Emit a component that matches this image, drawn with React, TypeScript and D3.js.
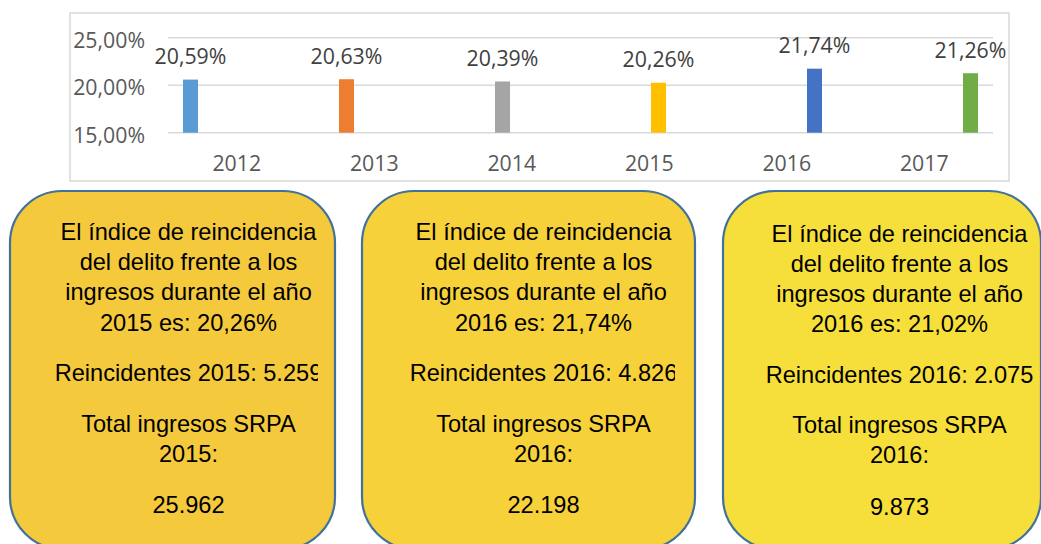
import React from "react";
import * as d3 from "d3";

const years = ["2012", "2013", "2014", "2015", "2016", "2017"];
const rates = [20.59, 20.63, 20.39, 20.26, 21.74, 21.26];
const seriesColors = ["#5B9BD5", "#ED7D31", "#A5A5A5", "#FFC000", "#4472C4", "#70AD47"];
const yTicks = [15, 20, 25];

const box1Lines = [
  "El índice de reincidencia",
  "del delito frente a los",
  "ingresos durante el año",
  "2015 es: 20,26%",
  "Reincidentes 2015: 5.259",
  "Total ingresos SRPA",
  "2015:",
  "25.962",
];
const box2Lines = [
  "El índice de reincidencia",
  "del delito frente a los",
  "ingresos durante el año",
  "2016 es: 21,74%",
  "Reincidentes 2016: 4.826",
  "Total ingresos SRPA",
  "2016:",
  "22.198",
];
const box3Lines = [
  "El índice de reincidencia",
  "del delito frente a los",
  "ingresos durante el año",
  "2016 es: 21,02%",
  "Reincidentes 2016: 2.075",
  "Total ingresos SRPA",
  "2016:",
  "9.873",
];

const W = 1041;
const H = 544;
const plot = { left: 168, right: 993, top: 37.7, bottom: 132.7 };
const fmtPct = (v: number) => d3.format(".2f")(v).replace(".", ",") + "%";

const lineBaselines = [240, 270.2, 300.4, 330.6, 381, 431.7, 461.9, 513.3];

const boxes = [
  { lines: box1Lines, x: 10, w: 325, cx: 188.5, fill: "#F4C93C", dy: 0, clipRight: 318 },
  { lines: box2Lines, x: 362, w: 333, cx: 543.5, fill: "#F6D13A", dy: 0, clipRight: 675 },
  { lines: box3Lines, x: 723, w: 318, cx: 899.5, fill: "#F6DF3A", dy: 1.5, clipRight: 1041 },
];

export default function App() {
  const x = d3.scaleBand<string>().domain(years).range([plot.left, plot.right]).padding(0);
  const groupW = 111;
  const xs = d3.scaleBand<string>().domain(years).range([0, groupW]).padding(0);
  const barW = 15;
  const y = d3.scaleLinear().domain([15, 25]).range([plot.bottom, plot.top]);

  const barCenter = (i: number) =>
    (x(years[i]) as number) + x.bandwidth() / 2 - groupW / 2 + (xs(years[i]) as number) + xs.bandwidth() / 2;

  const chartFont = "'Open Sans', sans-serif";
  const boxFont = "'Liberation Sans', Arial, sans-serif";
  const chartFs = 21.3;

  return (
    <svg
      width={W}
      height={H}
      style={{ position: "absolute", left: 0, top: 0, background: "#fff" }}
    >
      <defs>
        {boxes.map((b, i) => (
          <clipPath id={`clip${i}`} key={i}>
            <rect x={b.x} y={180} width={b.clipRight - b.x} height={400} />
          </clipPath>
        ))}
      </defs>
      {/* chart frame */}
      <rect x={70} y={13} width={939} height={168} fill="#fff" stroke="#D9D9D9" strokeWidth={1.5} />
      {/* gridlines */}
      {yTicks.map((t) => (
        <line key={t} x1={plot.left} x2={plot.right} y1={y(t)} y2={y(t)} stroke="#D9D9D9" strokeWidth={1.5} />
      ))}
      {/* y labels */}
      {yTicks.map((t) => (
        <text
          key={"l" + t}
          x={145}
          y={y(t) + 1.5}
          textAnchor="end"
          dominantBaseline="central"
          fontFamily={chartFont}
          fontSize={chartFs}
          fill="#595959"
        >
          {fmtPct(t)}
        </text>
      ))}
      {/* bars */}
      {rates.map((v, i) => (
        <rect
          key={"b" + i}
          x={barCenter(i) - barW / 2}
          y={y(v)}
          width={barW}
          height={y(15) - y(v)}
          fill={seriesColors[i]}
        />
      ))}
      {/* data labels */}
      {rates.map((v, i) => (
        <text
          key={"d" + i}
          x={barCenter(i)}
          y={y(v) - 24}
          textAnchor="middle"
          dominantBaseline="central"
          fontFamily={chartFont}
          fontSize={chartFs}
          fill="#404040"
        >
          {fmtPct(v)}
        </text>
      ))}
      {/* x labels */}
      {years.map((yr) => (
        <text
          key={"x" + yr}
          x={(x(yr) as number) + x.bandwidth() / 2}
          y={162}
          textAnchor="middle"
          dominantBaseline="central"
          fontFamily={chartFont}
          fontSize={chartFs}
          fill="#595959"
        >
          {yr}
        </text>
      ))}
      {/* boxes */}
      {boxes.map((b, i) => (
        <g key={"box" + i}>
          <rect x={b.x} y={191} width={b.w} height={358} rx={52} ry={52} fill={b.fill} stroke="#41719C" strokeWidth={2.2} />
          <g clipPath={`url(#clip${i})`}>
            {b.lines.map((ln, j) => (
              <text
                key={j}
                x={b.cx}
                y={lineBaselines[j] + b.dy}
                textAnchor="middle"
                fontFamily={boxFont}
                fontSize={23.6}
                fill="#000"
              >
                {ln}
              </text>
            ))}
          </g>
        </g>
      ))}
    </svg>
  );
}
